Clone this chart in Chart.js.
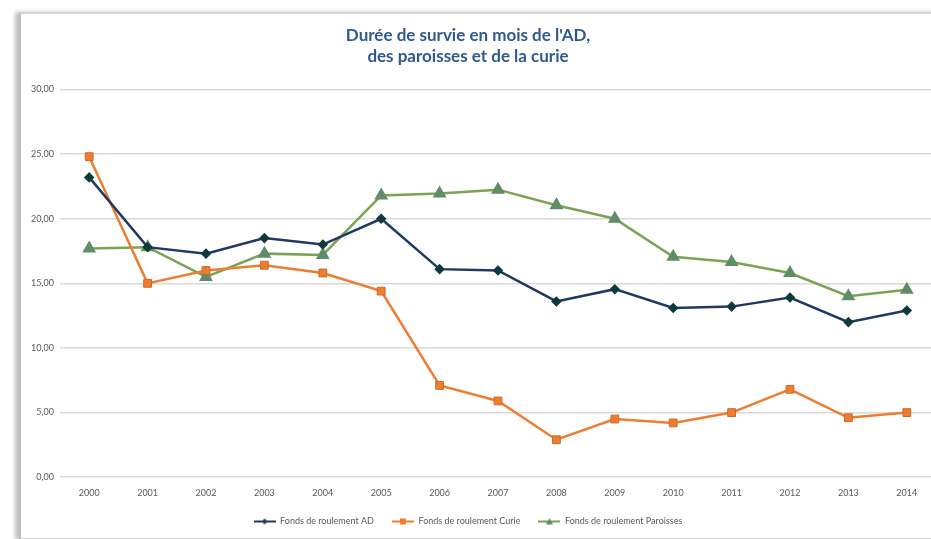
<!DOCTYPE html>
<html>
<head>
<meta charset="utf-8">
<script src="https://cdn.jsdelivr.net/npm/chart.js@4.4.1/dist/chart.umd.min.js"></script>
<style>
  html, body { margin: 0; padding: 0; background: #fff; overflow: hidden; }
  #wrap { position: relative; width: 931px; height: 539px; overflow: hidden; }
  #frame {
    position: absolute; left: 19px; top: 12px; width: 930px; height: 524px;
    border-left: 2px solid #bdbdbd; border-top: 2px solid #d6d3d0; border-bottom: 2px solid #d6d3d0;
    box-shadow: -4px 0 4px rgba(0,0,0,0.25);
  }
  #box { position: absolute; left: 0; top: 0; width: 945px; height: 539px; }
</style>
</head>
<body>
<div id="wrap">
  <div id="frame"></div>
  <div id="box"><canvas id="myChart"></canvas></div>
</div>
<script>
// annees
const years = ["2000","2001","2002","2003","2004","2005","2006","2007","2008","2009","2010","2011","2012","2013","2014"];
// Fonds de roulement AD
const adValues = [23.2, 17.8, 17.3, 18.5, 18.0, 20.0, 16.1, 16.0, 13.6, 14.55, 13.1, 13.2, 13.9, 12.0, 12.9];
// Fonds de roulement Curie
const curieValues = [24.8, 15.0, 16.0, 16.4, 15.8, 14.4, 7.1, 5.9, 2.9, 4.5, 4.2, 5.0, 6.8, 4.6, 5.0];
// Fonds de roulement Paroisses
const paroissesValues = [17.7, 17.8, 15.5, 17.3, 17.2, 21.8, 21.95, 22.25, 21.05, 20.0, 17.05, 16.65, 15.8, 14.0, 14.5];
const yTicks = [0, 5, 10, 15, 20, 25, 30];

const navy = "#203864";
const orange = "#ed7d31";
const green = "#7aa451";
const greenMark = "#5e8d67";

// petit dessin ligne + marqueur pour la legende
function legendIcon(color, markColor, shape) {
  const c = document.createElement("canvas");
  c.width = 22; c.height = 10;
  const g = c.getContext("2d");
  g.strokeStyle = color; g.lineWidth = 2;
  g.beginPath(); g.moveTo(0, 5); g.lineTo(22, 5); g.stroke();
  g.fillStyle = markColor;
  g.beginPath();
  if (shape == "diamond") { g.moveTo(11, 2); g.lineTo(14, 5); g.lineTo(11, 8); g.lineTo(8, 5); }
  else if (shape == "square") { g.rect(8, 2, 6, 6); }
  else { g.moveTo(11, 1.5); g.lineTo(14.5, 8); g.lineTo(7.5, 8); }
  g.closePath(); g.fill();
  return c;
}

const myChart = new Chart("myChart", {
  type: "line",
  data: {
    labels: years,
    datasets: [{
      label: "Fonds de roulement AD",
      data: adValues,
      borderColor: navy,
      backgroundColor: navy,
      borderWidth: 2.5,
      pointStyle: "rectRot",
      pointRadius: 3.5,
      pointBackgroundColor: "#0e3a3a",
      pointBorderColor: "#0e3a3a",
      icon: legendIcon(navy, navy, "diamond")
    }, {
      label: "Fonds de roulement Curie",
      data: curieValues,
      borderColor: orange,
      backgroundColor: orange,
      borderWidth: 2.5,
      pointStyle: "rect",
      pointRadius: 5.5,
      pointBackgroundColor: orange,
      pointBorderColor: "#d0692a",
      pointBorderWidth: 1,
      icon: legendIcon(orange, orange, "square")
    }, {
      label: "Fonds de roulement Paroisses",
      data: paroissesValues,
      borderColor: green,
      backgroundColor: green,
      borderWidth: 2.5,
      pointStyle: "triangle",
      pointRadius: 5.5,
      pointBackgroundColor: greenMark,
      pointBorderColor: greenMark,
      icon: legendIcon(green, greenMark, "triangle")
    }]
  },
  options: {
    responsive: true,
    maintainAspectRatio: false,
    animation: false,
    layout: { padding: { left: 0, right: 9, top: 0, bottom: 3 } },
    plugins: {
      title: {
        display: true,
        text: ["Durée de survie en mois de l'AD,", "des paroisses et de la curie"],
        color: "#2f5a8f",
        font: { family: "Lato", size: 17, weight: "bold", lineHeight: 1.25 },
        padding: { top: 25, bottom: 22 }
      },
      legend: {
        position: "bottom",
        labels: {
          color: "#595959",
          font: { family: "Lato", size: 9 },
          usePointStyle: true,
          pointStyleWidth: 22,
          padding: 18,
          generateLabels: (chart) => chart.data.datasets.map((ds, i) => ({
            text: ds.label,
            pointStyle: ds.icon,
            fontColor: "#595959",
            datasetIndex: i,
            lineWidth: 0,
            strokeStyle: "transparent",
            fillStyle: "transparent"
          }))
        }
      },
      tooltip: { enabled: false }
    },
    scales: {
      x: {
        offset: true,
        grid: { display: false },
        border: { display: false },
        afterFit: (scale) => { scale.height -= 1; },
        ticks: { color: "#595959", font: { family: "Lato", size: 9 }, padding: 2, maxRotation: 0 }
      },
      y: {
        min: 0,
        max: 30,
        afterFit: (scale) => { scale.width = 60; },
        afterBuildTicks: (scale) => { scale.ticks = yTicks.map(v => ({ value: v })); },
        grid: { color: "#d9d9d9", lineWidth: 1.5, drawTicks: false },
        border: { display: false },
        ticks: {
          color: "#595959",
          font: { family: "Lato", size: 9 },
          padding: 6,
          callback: (v) => v.toFixed(2).replace(".", ",")
        }
      }
    }
  }
});
</script>
</body>
</html>
